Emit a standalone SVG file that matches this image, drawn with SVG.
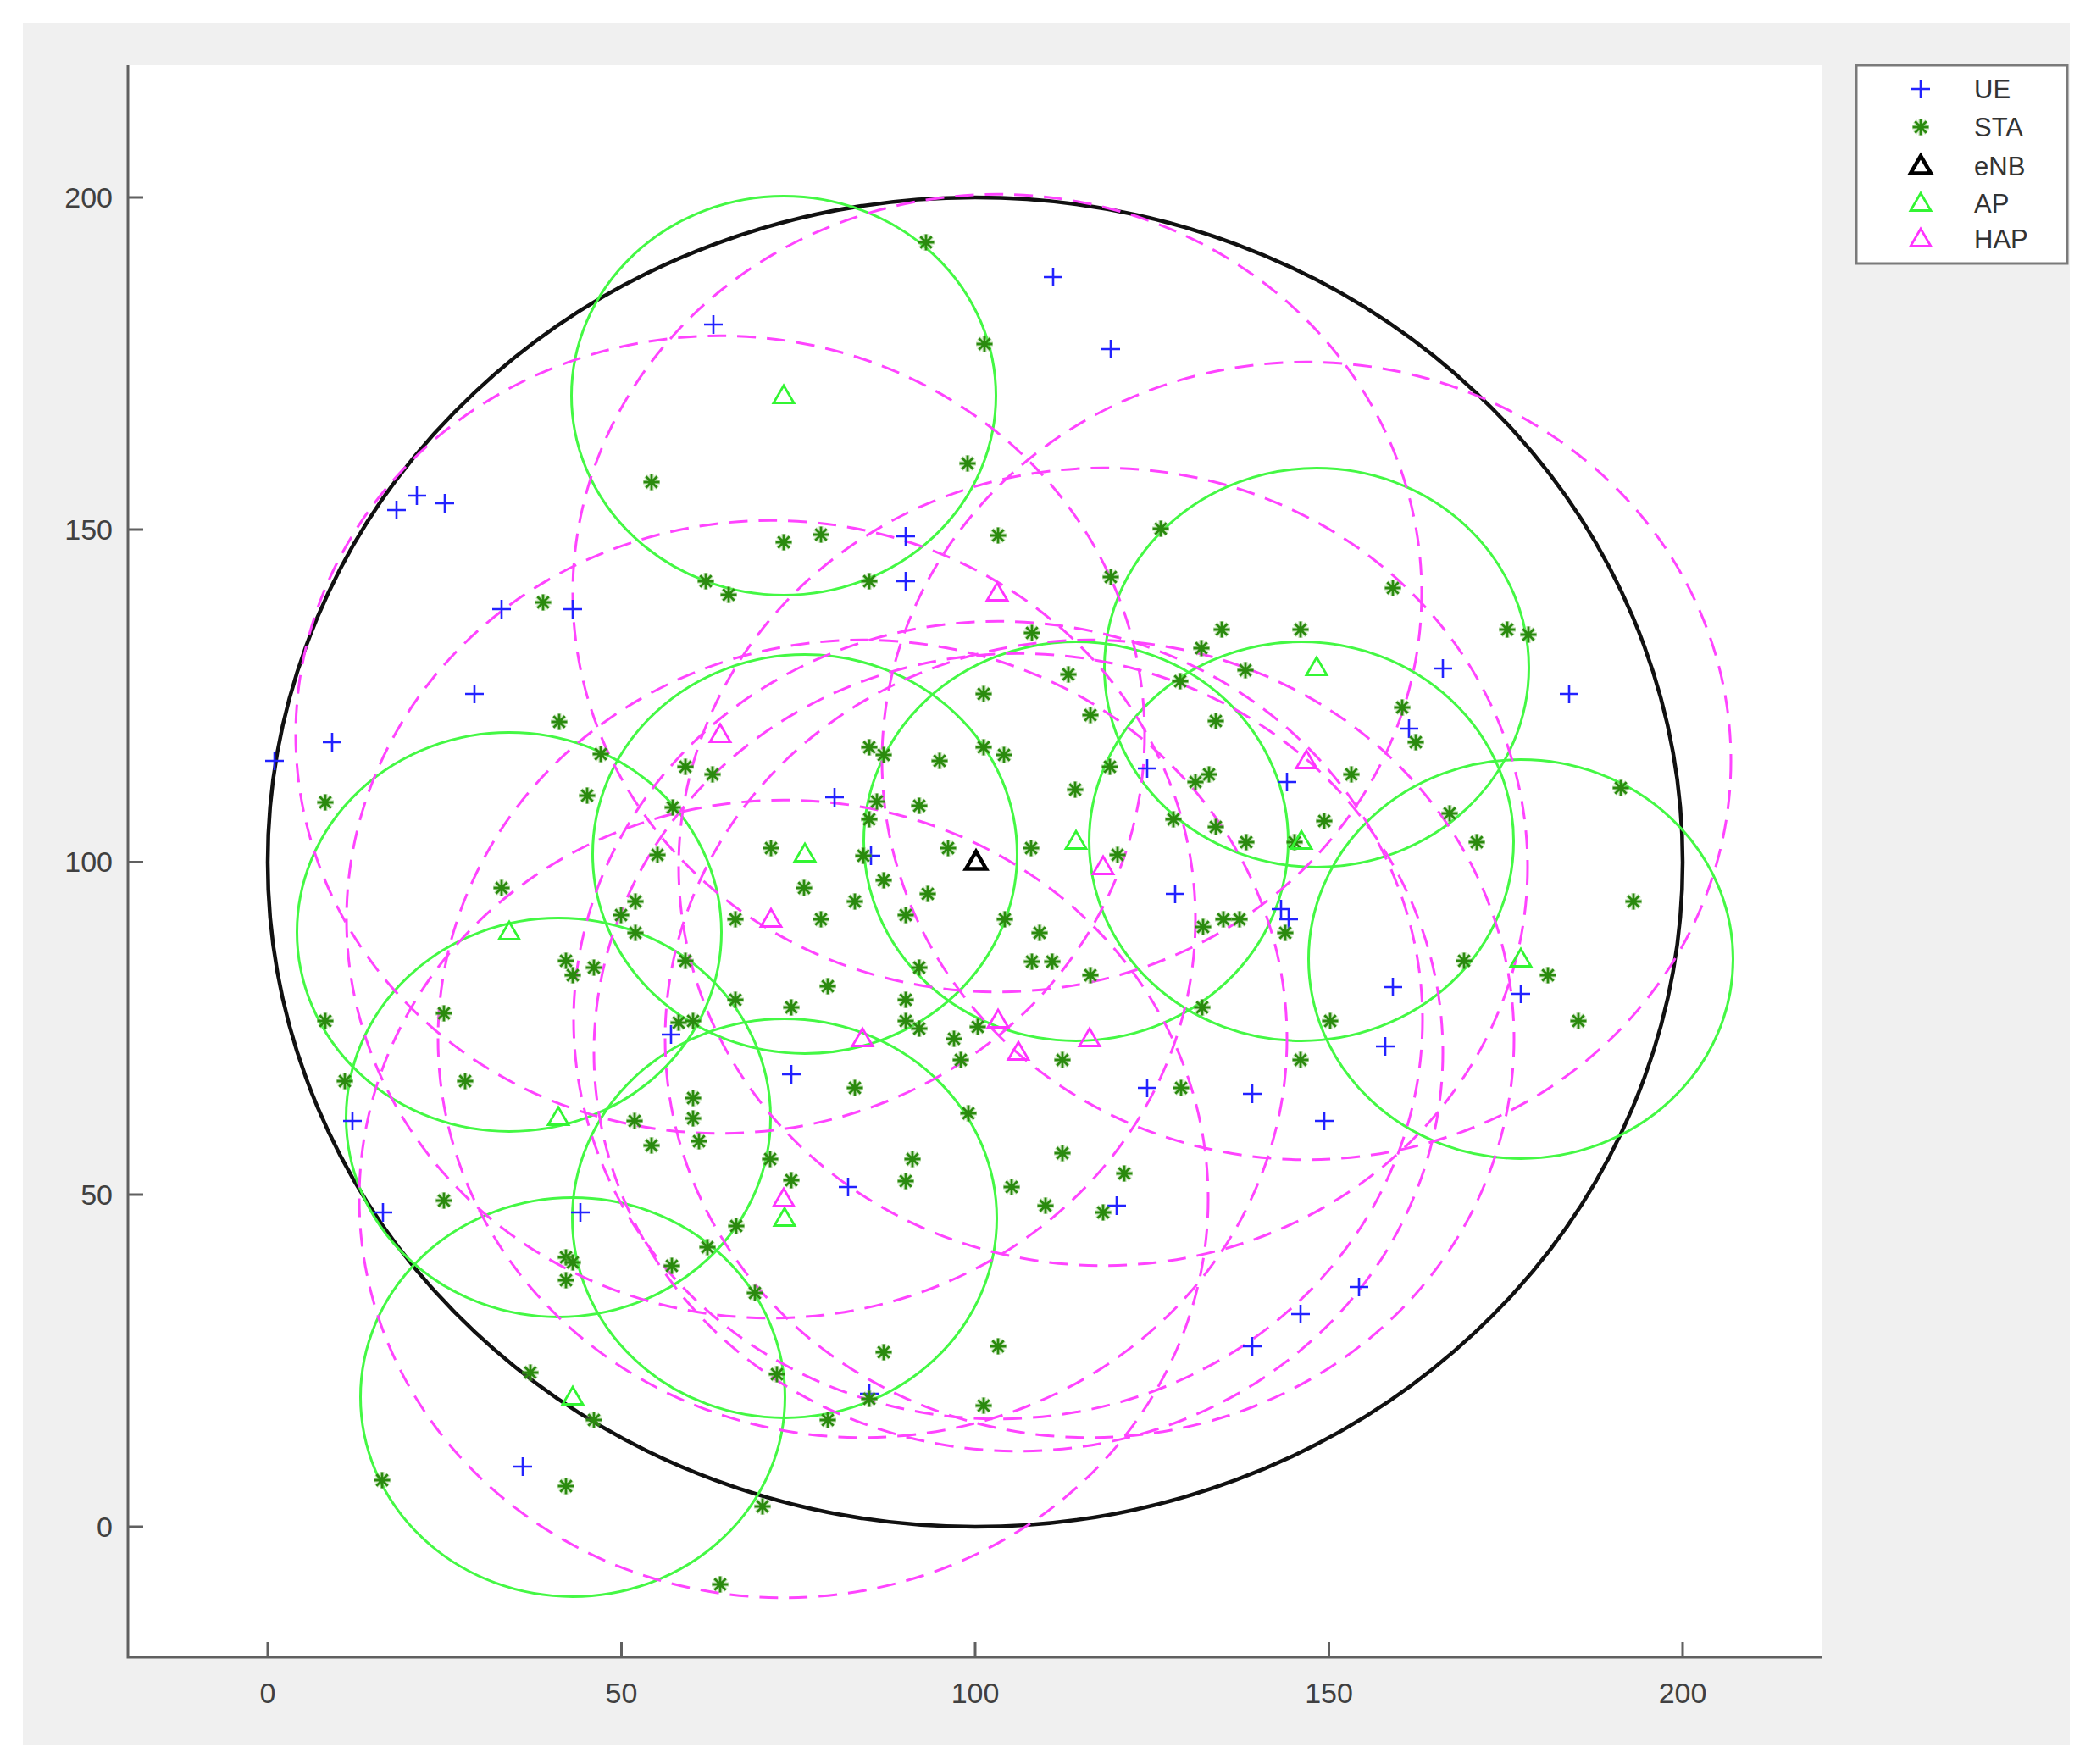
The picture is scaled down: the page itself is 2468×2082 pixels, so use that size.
<svg xmlns="http://www.w3.org/2000/svg" xmlns:xlink="http://www.w3.org/1999/xlink" width="2468" height="2082" viewBox="0 0 2468 2082">
<style>
.lbl{font-family:"Liberation Sans",Arial,sans-serif;font-size:34px;fill:#404040}
.leg{font-family:"Liberation Sans",Arial,sans-serif;font-size:31px;fill:#333}
.ax{stroke:#606060;stroke-width:3;fill:none}
.ue{stroke:#2222ff;stroke-width:2.6;fill:none}
.sta{stroke:#2a8a0e;stroke-width:2.8;fill:none}
.ap{stroke:#33f533;stroke-width:2.8;fill:none}
.hap{stroke:#ff33ff;stroke-width:2.8;fill:none}
.enb{stroke:#000;stroke-width:4.5;fill:none}
.apc{fill:none;stroke:#44f844;stroke-width:3}
.hapc{fill:none;stroke:#ff44ff;stroke-width:3;stroke-dasharray:22 13}
.bs{fill:none;stroke:#111;stroke-width:4.5}
</style>
<defs>
<path id="p" d="M-11 0H11M0-11V11"/>
<g id="s"><path d="M-10 0H10M0-10V10M-7-7L7 7M-7 7L7-7" stroke="#7fbf60" stroke-width="5.5" opacity="0.35"/><path d="M-9.5 0H9.5M0-9.5V9.5M-6.7-6.7L6.7 6.7M-6.7 6.7L6.7-6.7"/></g>
<path id="t" d="M0-12L12 8.5H-12Z"/>
</defs>
<rect x="0" y="0" width="2468" height="2082" fill="#fff"/>
<rect x="27" y="27" width="2416" height="2032" fill="#f0f0f0"/>
<rect x="151" y="77" width="1999" height="1879" fill="#fff"/>

<g id="axes">
<path class="ax" d="M151 77V1956H2150"/>
<path class="ax" d="M151 1802h18M151 1410h18M151 1017.5h18M151 625h18M151 233h18"/>
<path class="ax" d="M316 1956v-18M733.5 1956v-18M1151 1956v-18M1568.5 1956v-18M1986 1956v-18"/>
<g class="lbl" text-anchor="end">
<text x="133" y="1814">0</text>
<text x="133" y="1422">50</text>
<text x="133" y="1029">100</text>
<text x="133" y="637">150</text>
<text x="133" y="245">200</text>
</g>
<g class="lbl" text-anchor="middle">
<text x="316" y="2010">0</text>
<text x="733.5" y="2010">50</text>
<text x="1151" y="2010">100</text>
<text x="1568.5" y="2010">150</text>
<text x="1986" y="2010">200</text>
</g>
</g>

<g id="coverage">
<ellipse class="bs" cx="1151" cy="1017.5" rx="835" ry="784.5"/>
<g id="ap-circles">
<ellipse class="apc" cx="925" cy="467" rx="250.5" ry="235.4"/>
<ellipse class="apc" cx="950" cy="1008" rx="250.5" ry="235.4"/>
<ellipse class="apc" cx="1270" cy="993" rx="250.5" ry="235.4"/>
<ellipse class="apc" cx="1554" cy="788" rx="250.5" ry="235.4"/>
<ellipse class="apc" cx="1795" cy="1132" rx="250.5" ry="235.4"/>
<ellipse class="apc" cx="601" cy="1100" rx="250.5" ry="235.4"/>
<ellipse class="apc" cx="659" cy="1319" rx="250.5" ry="235.4"/>
<ellipse class="apc" cx="926" cy="1438" rx="250.5" ry="235.4"/>
<ellipse class="apc" cx="676" cy="1649" rx="250.5" ry="235.4"/>
<ellipse class="apc" cx="1536" cy="993" rx="250.5" ry="235.4"/>
</g>
<g id="hap-circles">
<ellipse class="hapc" cx="1177" cy="700" rx="501" ry="470.7"/>
<ellipse class="hapc" cx="850" cy="867" rx="501" ry="470.7"/>
<ellipse class="hapc" cx="1542" cy="898" rx="501" ry="470.7"/>
<ellipse class="hapc" cx="1302" cy="1023" rx="501" ry="470.7"/>
<ellipse class="hapc" cx="910" cy="1085" rx="501" ry="470.7"/>
<ellipse class="hapc" cx="1018" cy="1226" rx="501" ry="470.7"/>
<ellipse class="hapc" cx="1178" cy="1204" rx="501" ry="470.7"/>
<ellipse class="hapc" cx="1202" cy="1242" rx="501" ry="470.7"/>
<ellipse class="hapc" cx="1286" cy="1226" rx="501" ry="470.7"/>
<ellipse class="hapc" cx="925" cy="1415" rx="501" ry="470.7"/>
</g>
</g>

<g id="UE" class="ue">
<use href="#p" x="842" y="383"/><use href="#p" x="468" y="602"/><use href="#p" x="492" y="585"/><use href="#p" x="525" y="594"/>
<use href="#p" x="592" y="719"/><use href="#p" x="676" y="719"/><use href="#p" x="1243" y="327"/><use href="#p" x="1311" y="412"/>
<use href="#p" x="1069" y="633"/><use href="#p" x="1069" y="686"/><use href="#p" x="560" y="819"/><use href="#p" x="392" y="876"/>
<use href="#p" x="324" y="898"/><use href="#p" x="792" y="1221"/><use href="#p" x="416" y="1323"/><use href="#p" x="1354" y="907"/>
<use href="#p" x="985" y="941"/><use href="#p" x="1028" y="1010"/><use href="#p" x="1387" y="1055"/><use href="#p" x="934" y="1268"/>
<use href="#p" x="1354" y="1284"/><use href="#p" x="1703" y="789"/><use href="#p" x="1852" y="819"/><use href="#p" x="1663" y="860"/>
<use href="#p" x="1519" y="923"/><use href="#p" x="1512" y="1073"/><use href="#p" x="1521" y="1085"/><use href="#p" x="1795" y="1173"/>
<use href="#p" x="1644" y="1165"/><use href="#p" x="1635" y="1235"/><use href="#p" x="1478" y="1291"/><use href="#p" x="1563" y="1323"/>
<use href="#p" x="452" y="1431"/><use href="#p" x="685" y="1431"/><use href="#p" x="617" y="1731"/><use href="#p" x="1001" y="1401"/>
<use href="#p" x="1318" y="1423"/><use href="#p" x="1026" y="1645"/><use href="#p" x="1604" y="1519"/><use href="#p" x="1535" y="1551"/>
<use href="#p" x="1478" y="1589"/>
</g>

<g id="STA" class="sta">
<use href="#s" x="769" y="569"/><use href="#s" x="833" y="686"/><use href="#s" x="860" y="702"/><use href="#s" x="641" y="711"/>
<use href="#s" x="1093" y="286"/><use href="#s" x="1162" y="406"/><use href="#s" x="1142" y="547"/><use href="#s" x="925" y="640"/>
<use href="#s" x="969" y="631"/><use href="#s" x="1178" y="632"/><use href="#s" x="1026" y="686"/><use href="#s" x="1370" y="624"/>
<use href="#s" x="1311" y="681"/><use href="#s" x="1218" y="747"/><use href="#s" x="1442" y="743"/><use href="#s" x="1418" y="765"/>
<use href="#s" x="1644" y="694"/><use href="#s" x="1535" y="743"/><use href="#s" x="1779" y="743"/><use href="#s" x="1804" y="749"/>
<use href="#s" x="660" y="852"/><use href="#s" x="709" y="890"/><use href="#s" x="384" y="947"/><use href="#s" x="693" y="939"/>
<use href="#s" x="809" y="905"/><use href="#s" x="841" y="914"/><use href="#s" x="794" y="953"/><use href="#s" x="776" y="1009"/>
<use href="#s" x="592" y="1048"/><use href="#s" x="750" y="1064"/><use href="#s" x="733" y="1080"/><use href="#s" x="750" y="1101"/>
<use href="#s" x="868" y="1085"/><use href="#s" x="668" y="1134"/><use href="#s" x="676" y="1151"/><use href="#s" x="701" y="1142"/>
<use href="#s" x="809" y="1134"/><use href="#s" x="524" y="1196"/><use href="#s" x="384" y="1205"/><use href="#s" x="868" y="1180"/>
<use href="#s" x="801" y="1207"/><use href="#s" x="818" y="1205"/><use href="#s" x="407" y="1276"/><use href="#s" x="549" y="1276"/>
<use href="#s" x="749" y="1323"/><use href="#s" x="818" y="1296"/><use href="#s" x="818" y="1320"/>
<use href="#s" x="1261" y="796"/><use href="#s" x="1161" y="819"/><use href="#s" x="1287" y="844"/><use href="#s" x="1393" y="804"/>
<use href="#s" x="1435" y="851"/><use href="#s" x="1026" y="882"/><use href="#s" x="1043" y="891"/><use href="#s" x="1109" y="898"/>
<use href="#s" x="1161" y="882"/><use href="#s" x="1185" y="891"/><use href="#s" x="1310" y="905"/><use href="#s" x="1427" y="914"/>
<use href="#s" x="1411" y="923"/><use href="#s" x="1269" y="932"/><use href="#s" x="1035" y="946"/><use href="#s" x="1085" y="951"/>
<use href="#s" x="1026" y="967"/><use href="#s" x="1385" y="967"/><use href="#s" x="1435" y="976"/><use href="#s" x="910" y="1001"/>
<use href="#s" x="1019" y="1010"/><use href="#s" x="1119" y="1001"/><use href="#s" x="1217" y="1001"/><use href="#s" x="1319" y="1009"/>
<use href="#s" x="949" y="1048"/><use href="#s" x="1043" y="1039"/><use href="#s" x="1095" y="1055"/><use href="#s" x="1009" y="1064"/>
<use href="#s" x="1069" y="1080"/><use href="#s" x="969" y="1085"/><use href="#s" x="1420" y="1094"/><use href="#s" x="1444" y="1085"/>
<use href="#s" x="1186" y="1085"/><use href="#s" x="1227" y="1101"/><use href="#s" x="1218" y="1135"/><use href="#s" x="1242" y="1135"/>
<use href="#s" x="1287" y="1151"/><use href="#s" x="977" y="1164"/><use href="#s" x="934" y="1189"/><use href="#s" x="1085" y="1142"/>
<use href="#s" x="1069" y="1180"/><use href="#s" x="1069" y="1205"/><use href="#s" x="1085" y="1214"/><use href="#s" x="1154" y="1212"/>
<use href="#s" x="1126" y="1226"/><use href="#s" x="1134" y="1251"/><use href="#s" x="1254" y="1251"/><use href="#s" x="1419" y="1189"/>
<use href="#s" x="1009" y="1284"/><use href="#s" x="1394" y="1284"/><use href="#s" x="1143" y="1314"/>
<use href="#s" x="1470" y="791"/><use href="#s" x="1655" y="835"/><use href="#s" x="1671" y="876"/><use href="#s" x="1595" y="914"/>
<use href="#s" x="1913" y="930"/><use href="#s" x="1563" y="969"/><use href="#s" x="1711" y="960"/><use href="#s" x="1471" y="994"/>
<use href="#s" x="1528" y="994"/><use href="#s" x="1463" y="1085"/><use href="#s" x="1517" y="1101"/><use href="#s" x="1743" y="994"/>
<use href="#s" x="1928" y="1064"/><use href="#s" x="1728" y="1134"/><use href="#s" x="1827" y="1151"/><use href="#s" x="1863" y="1205"/>
<use href="#s" x="1570" y="1205"/><use href="#s" x="1535" y="1251"/>
<use href="#s" x="769" y="1352"/><use href="#s" x="825" y="1347"/><use href="#s" x="524" y="1417"/><use href="#s" x="869" y="1447"/>
<use href="#s" x="835" y="1472"/><use href="#s" x="668" y="1484"/><use href="#s" x="676" y="1490"/><use href="#s" x="668" y="1511"/>
<use href="#s" x="793" y="1494"/><use href="#s" x="626" y="1620"/><use href="#s" x="701" y="1676"/><use href="#s" x="668" y="1754"/>
<use href="#s" x="451" y="1747"/><use href="#s" x="850" y="1870"/>
<use href="#s" x="909" y="1368"/><use href="#s" x="934" y="1393"/><use href="#s" x="1077" y="1368"/><use href="#s" x="1069" y="1394"/>
<use href="#s" x="1254" y="1361"/><use href="#s" x="1327" y="1385"/><use href="#s" x="1194" y="1401"/><use href="#s" x="1234" y="1423"/>
<use href="#s" x="1302" y="1431"/><use href="#s" x="891" y="1526"/><use href="#s" x="1043" y="1596"/><use href="#s" x="1178" y="1589"/>
<use href="#s" x="917" y="1622"/><use href="#s" x="1026" y="1651"/><use href="#s" x="977" y="1676"/><use href="#s" x="1161" y="1659"/>
<use href="#s" x="900" y="1778"/>
</g>

<g id="eNB" class="enb"><use href="#t" x="1152" y="1017"/></g>

<g id="AP" class="ap">
<use href="#t" x="925" y="467"/><use href="#t" x="950" y="1008"/><use href="#t" x="1270" y="993"/><use href="#t" x="1554" y="788"/>
<use href="#t" x="1795" y="1132"/><use href="#t" x="601" y="1100"/><use href="#t" x="659" y="1319"/><use href="#t" x="926" y="1438"/>
<use href="#t" x="676" y="1649"/><use href="#t" x="1536" y="993"/>
</g>

<g id="HAP" class="hap">
<use href="#t" x="1177" y="700"/><use href="#t" x="850" y="867"/><use href="#t" x="1542" y="898"/><use href="#t" x="1302" y="1023"/>
<use href="#t" x="910" y="1085"/><use href="#t" x="1018" y="1226"/><use href="#t" x="1178" y="1204"/><use href="#t" x="1202" y="1242"/>
<use href="#t" x="1286" y="1226"/><use href="#t" x="925" y="1415"/>
</g>

<g id="legend">
<rect x="2191" y="77" width="249" height="234" fill="#fff" stroke="#7a7a7a" stroke-width="3"/>
<use class="ue" href="#p" x="2267" y="105"/>
<use class="sta" href="#s" x="2267" y="150"/>
<use class="enb" href="#t" x="2267" y="196"/>
<use class="ap" href="#t" x="2267" y="240"/>
<use class="hap" href="#t" x="2267" y="282"/>
<g class="leg">
<text x="2330" y="116">UE</text>
<text x="2330" y="161">STA</text>
<text x="2330" y="207">eNB</text>
<text x="2330" y="251">AP</text>
<text x="2330" y="293">HAP</text>
</g>
</g>
</svg>
